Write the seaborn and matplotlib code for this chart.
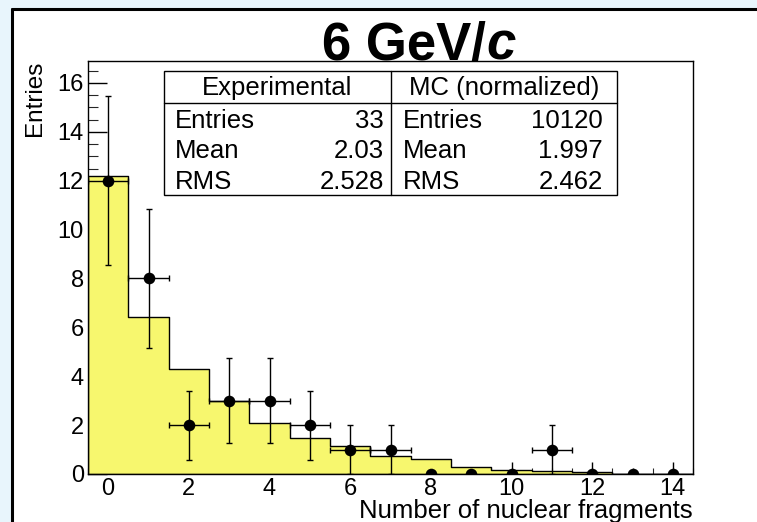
import matplotlib
matplotlib.use("Agg")
import matplotlib.pyplot as plt
from matplotlib.patches import Rectangle
from matplotlib.lines import Line2D
from matplotlib.ticker import MultipleLocator
import numpy as np
import pandas as pd
import seaborn as sns

# Bin centres: number of nuclear fragments
fragments = [0, 1, 2, 3, 4, 5, 6, 7, 8, 9, 10, 11, 12, 13, 14]
# Monte Carlo prediction (normalized to the data)
mc_counts = [12.2, 6.42, 4.29, 2.98, 2.09, 1.46, 1.16, 0.75, 0.63, 0.30, 0.16, 0.14, 0.08, 0.02, 0.0]
# Measured counts
data_counts = [12, 8, 2, 3, 3, 2, 1, 1, 0, 0, 0, 1, 0, 0, 0]

title_main = "6 GeV/"
title_unit = "c"
x_label = "Number of nuclear fragments"
y_label = "Entries"

stat_names = ["Entries", "Mean", "RMS"]
exp_header = "Experimental"
exp_stats = ["33", "2.03", "2.528"]
mc_header = "MC (normalized)"
mc_stats = ["10120", "1.997", "2.462"]

W, H = 757, 522
sns.set_theme(style="white")
plt.rcParams["font.family"] = ["Liberation Sans", "DejaVu Sans"]
plt.rcParams["text.color"] = "black"

fig = plt.figure(figsize=(W / 100, H / 100), dpi=100)
fig.patch.set_facecolor("#e8f5fc")


def fx(x):
    return x / W


def fy(y):
    return 1 - y / H


# white canvas pad with its black frame
fig.patches.append(Rectangle((fx(12), 0), 1 - fx(12) + 0.01, fy(9), transform=fig.transFigure,
                             facecolor="white", edgecolor="none", zorder=-10))
fig.lines.append(Line2D([fx(12), fx(12)], [0, fy(9)], transform=fig.transFigure, color="black",
                        lw=2.2, zorder=-5))
fig.lines.append(Line2D([fx(12), 1], [fy(9), fy(9)], transform=fig.transFigure, color="black",
                        lw=2.2, zorder=-5))

ax = fig.add_axes([fx(88), fy(474), fx(693) - fx(88), fy(61) - fy(474)])
ax.set_facecolor("white")

df = pd.DataFrame({"n": fragments, "mc": mc_counts, "data": data_counts})

sns.histplot(data=df, x="n", weights="mc", discrete=True, element="step", fill=True,
             color="#f7f76e", edgecolor="black", linewidth=1.0, alpha=1.0, ax=ax, zorder=1)

nz = df[df["data"] > 0]
ax.errorbar(nz["n"], nz["data"], yerr=np.sqrt(nz["data"]), xerr=0.5, fmt="none",
            ecolor="black", elinewidth=1.0, capsize=2.5, capthick=1.0, zorder=3)
sns.scatterplot(data=df, x="n", y="data", color="black", s=70, edgecolor="black",
                linewidth=0, ax=ax, zorder=4)

ax.set_xlim(-0.5, 14.5)
ax.set_ylim(0, 16.9)
ax.set_xlabel("")
ax.set_ylabel("")

ax.xaxis.set_major_locator(MultipleLocator(2))
ax.xaxis.set_minor_locator(MultipleLocator(0.5))
ax.yaxis.set_major_locator(MultipleLocator(2))
ax.yaxis.set_minor_locator(MultipleLocator(0.5))
ax.tick_params(axis="x", which="major", direction="in", length=8.6, width=1, bottom=True, top=False,
               labelsize=17, pad=3, color="black", labelcolor="black")
ax.tick_params(axis="x", which="minor", direction="in", length=4.3, width=0.8, bottom=True, top=False)
ax.tick_params(axis="y", which="major", direction="in", length=13.7, width=1, left=True, right=False,
               labelsize=17, pad=3, color="black", labelcolor="black")
ax.tick_params(axis="y", which="minor", direction="in", length=7.2, width=0.8, left=True, right=False)
for s in ax.spines.values():
    s.set_color("black")
    s.set_linewidth(1.0)
    s.set_visible(True)
ax.grid(False)

fig.text(fx(693), fy(518), x_label, ha="right", va="baseline", fontsize=18.5, color="black")
fig.text(fx(35), fy(61), y_label, ha="center", va="top", rotation=90, fontsize=17.5, color="black")

# title: upright bold text followed by a bold italic "c"
renderer = fig.canvas.get_renderer()
t1 = fig.text(0, fy(60), title_main, ha="left", va="baseline", fontsize=38, fontweight="bold")
t2 = fig.text(0, fy(60), title_unit, ha="left", va="baseline", fontsize=38, fontweight="bold",
              fontstyle="italic")
w1 = t1.get_window_extent(renderer).width
w2 = t2.get_window_extent(renderer).width
left = 419 - (w1 + w2) / 2
t1.set_x(fx(left))
t2.set_x(fx(left + w1))

# statistics table
bx0, bx1, by0, by1, bxm, bhy = 164, 617, 71, 195, 391, 103
fig.patches.append(Rectangle((fx(bx0), fy(by1)), fx(bx1) - fx(bx0), fy(by0) - fy(by1),
                             transform=fig.transFigure, facecolor="white", edgecolor="black",
                             lw=1.0, zorder=5))
fig.lines.append(Line2D([fx(bxm), fx(bxm)], [fy(by0), fy(by1)], transform=fig.transFigure,
                        color="black", lw=1.0, zorder=6))
fig.lines.append(Line2D([fx(bx0), fx(bx1)], [fy(bhy), fy(bhy)], transform=fig.transFigure,
                        color="black", lw=1.0, zorder=6))
fs_tab = 18.5
fig.text(fx((bx0 + bxm) / 2), fy(95), exp_header, ha="center", va="baseline", fontsize=fs_tab, zorder=7)
fig.text(fx((bxm + bx1) / 2), fy(95), mc_header, ha="center", va="baseline", fontsize=fs_tab, zorder=7)
for i, name in enumerate(stat_names):
    yb = fy(128 + 30.5 * i)
    fig.text(fx(175), yb, name, ha="left", va="baseline", fontsize=fs_tab, zorder=7)
    fig.text(fx(384), yb, exp_stats[i], ha="right", va="baseline", fontsize=fs_tab, zorder=7)
    fig.text(fx(403), yb, name, ha="left", va="baseline", fontsize=fs_tab, zorder=7)
    fig.text(fx(603), yb, mc_stats[i], ha="right", va="baseline", fontsize=fs_tab, zorder=7)

fig.savefig("out.png", dpi=100, facecolor=fig.get_facecolor())
